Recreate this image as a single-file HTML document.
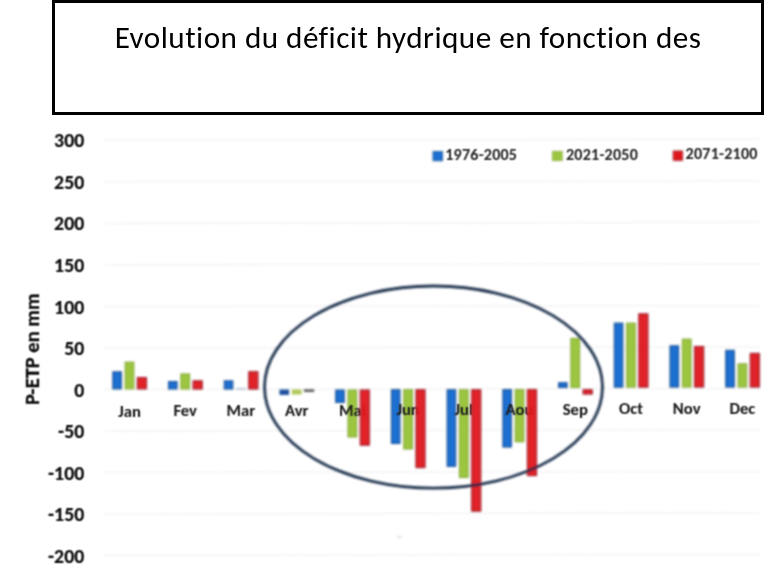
<!DOCTYPE html>
<html><head><meta charset="utf-8"><title>Evolution du déficit hydrique</title>
<style>
html,body{margin:0;padding:0;background:#fff;}
body{width:784px;height:580px;overflow:hidden;position:relative;font-family:"Carlito","Liberation Sans",sans-serif;}
.box{position:absolute;left:52px;top:0;width:706px;height:109px;border:3px solid #000;}
.title{position:absolute;left:52px;width:712px;top:17.1px;text-align:center;font-size:31.2px;line-height:40px;color:#000;font-variant-ligatures:none;font-feature-settings:"liga" 0,"clig" 0;letter-spacing:0.45px;}
svg{position:absolute;left:0;top:0;}
.yl{stroke:#111;stroke-width:0.15px;font-family:"Carlito","Liberation Sans",sans-serif;font-weight:bold;font-size:19.8px;fill:#111;letter-spacing:0px;}
.ml{stroke:#1f1f1f;stroke-width:0.1px;font-family:"Carlito","Liberation Sans",sans-serif;font-weight:bold;font-size:16.6px;fill:#1f1f1f;}
.lg{stroke:#2a2a2a;stroke-width:0.1px;letter-spacing:0.25px;font-family:"Carlito","Liberation Sans",sans-serif;font-weight:bold;font-size:16px;fill:#2a2a2a;}
.yt{stroke:#111;stroke-width:0.3px;font-family:"Carlito","Liberation Sans",sans-serif;font-weight:bold;font-size:20.5px;fill:#111;}
</style></head>
<body>
<div class="box"></div>
<div class="title">Evolution du déficit hydrique en fonction des</div>
<svg width="784" height="580" viewBox="0 0 784 580">
<defs><filter id="fb" x="-5%" y="-5%" width="110%" height="110%"><feGaussianBlur stdDeviation="0.8"/></filter><filter id="ft" x="-5%" y="-5%" width="110%" height="110%"><feConvolveMatrix order="3" kernelMatrix="1 2 1 2 4 2 1 2 1" divisor="16" preserveAlpha="false"/></filter></defs>
<g filter="url(#fb)"><line x1="104" y1="140.3" x2="760" y2="139.3" stroke="#f6f6f6" stroke-width="2"/><line x1="104" y1="181.8" x2="760" y2="180.8" stroke="#f6f6f6" stroke-width="2"/><line x1="104" y1="223.3" x2="760" y2="222.3" stroke="#f6f6f6" stroke-width="2"/><line x1="104" y1="264.9" x2="760" y2="263.9" stroke="#f6f6f6" stroke-width="2"/><line x1="104" y1="306.4" x2="760" y2="305.4" stroke="#f6f6f6" stroke-width="2"/><line x1="104" y1="347.9" x2="760" y2="346.9" stroke="#f6f6f6" stroke-width="2"/><line x1="104" y1="389.4" x2="760" y2="388.4" stroke="#f6f6f6" stroke-width="2"/><line x1="104" y1="430.9" x2="760" y2="429.9" stroke="#f6f6f6" stroke-width="2"/><line x1="104" y1="472.4" x2="760" y2="471.4" stroke="#f6f6f6" stroke-width="2"/><line x1="104" y1="513.9" x2="760" y2="512.9" stroke="#f6f6f6" stroke-width="2"/><line x1="104" y1="555.5" x2="760" y2="554.5" stroke="#f6f6f6" stroke-width="2"/><ellipse cx="399.5" cy="537" rx="2.5" ry="1.5" fill="#e6e6e6"/></g>
<g filter="url(#ft)"><text x="84.2" y="147.4" text-anchor="end" class="yl">300</text><text x="84.2" y="188.9" text-anchor="end" class="yl">250</text><text x="84.2" y="230.4" text-anchor="end" class="yl">200</text><text x="84.2" y="272.0" text-anchor="end" class="yl">150</text><text x="84.2" y="313.5" text-anchor="end" class="yl">100</text><text x="84.2" y="355.0" text-anchor="end" class="yl">50</text><text x="84.2" y="396.5" text-anchor="end" class="yl">0</text><text x="84.2" y="438.0" text-anchor="end" class="yl">-50</text><text x="84.2" y="479.5" text-anchor="end" class="yl">-100</text><text x="84.2" y="521.0" text-anchor="end" class="yl">-150</text><text x="84.2" y="562.6" text-anchor="end" class="yl">-200</text>
<text class="yt" transform="translate(38.6,405.1) rotate(-90)">P-ETP en mm</text>
<text x="445.2" y="160" class="lg">1976-2005</text>
<text x="566" y="159.8" class="lg">2021-2050</text>
<text x="685.6" y="159.4" class="lg">2071-2100</text>
</g>
<g filter="url(#fb)">
<rect x="433" y="151.5" width="9.6" height="9.3" fill="#1f6fd2" stroke="#1b4f8e" stroke-width="0.8"/>
<rect x="552.6" y="151.3" width="9.6" height="9.3" fill="#9cc641" stroke="#84a83a" stroke-width="0.8"/>
<rect x="673.2" y="151" width="9.4" height="9.3" fill="#e0151f" stroke="#920f1b" stroke-width="0.8"/>
<rect x="112.85" y="371.85" width="8.50" height="17.00" fill="#1f6fd2" stroke="#1b4f8e" stroke-width="1.1"/>
<rect x="125.15" y="362.15" width="8.70" height="26.70" fill="#9cc641" stroke="#84a83a" stroke-width="1.1"/>
<rect x="168.57" y="381.55" width="8.50" height="7.40" fill="#1f6fd2" stroke="#1b4f8e" stroke-width="1.1"/>
<rect x="180.87" y="373.95" width="8.70" height="15.00" fill="#9cc641" stroke="#84a83a" stroke-width="1.1"/>
<rect x="224.29" y="380.85" width="8.50" height="8.10" fill="#1f6fd2" stroke="#1b4f8e" stroke-width="1.1"/>
<rect x="236.04" y="388.30" width="9.80" height="1.20" fill="#9fb6c6"/>
<rect x="280.01" y="390.05" width="8.50" height="4.30" fill="#1d4f9c" stroke="#1d4f9c" stroke-width="1.1"/>
<rect x="292.31" y="390.05" width="8.70" height="3.90" fill="#b0c858" stroke="#b0c858" stroke-width="1.1"/>
<rect x="335.73" y="390.05" width="8.50" height="12.40" fill="#1f6fd2" stroke="#1b4f8e" stroke-width="1.1"/>
<rect x="348.03" y="390.05" width="8.70" height="46.90" fill="#9cc641" stroke="#84a83a" stroke-width="1.1"/>
<rect x="391.45" y="389.75" width="8.50" height="53.70" fill="#1f6fd2" stroke="#1b4f8e" stroke-width="1.1"/>
<rect x="403.75" y="389.75" width="8.70" height="59.20" fill="#9cc641" stroke="#84a83a" stroke-width="1.1"/>
<rect x="447.17" y="389.75" width="8.50" height="76.60" fill="#1f6fd2" stroke="#1b4f8e" stroke-width="1.1"/>
<rect x="459.47" y="389.75" width="8.70" height="87.70" fill="#9cc641" stroke="#84a83a" stroke-width="1.1"/>
<rect x="502.89" y="389.65" width="8.50" height="57.40" fill="#1f6fd2" stroke="#1b4f8e" stroke-width="1.1"/>
<rect x="515.19" y="389.65" width="8.70" height="52.10" fill="#9cc641" stroke="#84a83a" stroke-width="1.1"/>
<rect x="558.61" y="382.75" width="8.50" height="4.70" fill="#1f6fd2" stroke="#1b4f8e" stroke-width="1.1"/>
<rect x="570.91" y="338.45" width="8.70" height="49.00" fill="#9cc641" stroke="#84a83a" stroke-width="1.1"/>
<rect x="614.33" y="323.15" width="8.50" height="64.00" fill="#1f6fd2" stroke="#1b4f8e" stroke-width="1.1"/>
<rect x="626.63" y="323.15" width="8.70" height="64.00" fill="#9cc641" stroke="#84a83a" stroke-width="1.1"/>
<rect x="670.05" y="345.85" width="8.50" height="41.20" fill="#1f6fd2" stroke="#1b4f8e" stroke-width="1.1"/>
<rect x="682.35" y="339.15" width="8.70" height="47.90" fill="#9cc641" stroke="#84a83a" stroke-width="1.1"/>
<rect x="725.77" y="350.35" width="8.50" height="36.70" fill="#1f6fd2" stroke="#1b4f8e" stroke-width="1.1"/>
<rect x="738.07" y="363.85" width="8.70" height="23.20" fill="#9cc641" stroke="#84a83a" stroke-width="1.1"/></g>
<g filter="url(#ft)"><text x="129.5" y="416.7" text-anchor="middle" class="ml">Jan</text><text x="185.2" y="416.4" text-anchor="middle" class="ml">Fev</text><text x="240.9" y="416.2" text-anchor="middle" class="ml">Mar</text><text x="296.7" y="415.9" text-anchor="middle" class="ml">Avr</text><text x="352.4" y="415.7" text-anchor="middle" class="ml">Mai</text><text x="408.1" y="415.4" text-anchor="middle" class="ml">Jun</text><text x="463.8" y="415.1" text-anchor="middle" class="ml">Jul</text><text x="519.5" y="414.9" text-anchor="middle" class="ml">Aou</text><text x="575.3" y="414.6" text-anchor="middle" class="ml">Sep</text><text x="631.0" y="414.3" text-anchor="middle" class="ml">Oct</text><text x="686.7" y="414.1" text-anchor="middle" class="ml">Nov</text><text x="742.4" y="413.8" text-anchor="middle" class="ml">Dec</text></g>
<g filter="url(#fb)"><g opacity="0.95"><rect x="137.35" y="377.55" width="9.10" height="11.30" fill="#e0151f" stroke="#920f1b" stroke-width="1.1"/>
<rect x="193.07" y="380.85" width="9.10" height="8.10" fill="#e0151f" stroke="#920f1b" stroke-width="1.1"/>
<rect x="248.79" y="371.65" width="9.10" height="17.30" fill="#e0151f" stroke="#920f1b" stroke-width="1.1"/>
<rect x="303.96" y="389.50" width="10.20" height="2.30" fill="#3a3a3a"/>
<rect x="360.23" y="390.05" width="9.10" height="55.10" fill="#e0151f" stroke="#920f1b" stroke-width="1.1"/>
<rect x="415.95" y="389.75" width="9.10" height="77.80" fill="#e0151f" stroke="#920f1b" stroke-width="1.1"/>
<rect x="471.67" y="389.75" width="9.10" height="121.40" fill="#e0151f" stroke="#920f1b" stroke-width="1.1"/>
<rect x="527.39" y="389.65" width="9.10" height="85.90" fill="#e0151f" stroke="#920f1b" stroke-width="1.1"/>
<rect x="583.11" y="389.75" width="9.10" height="4.30" fill="#e0151f" stroke="#920f1b" stroke-width="1.1"/>
<rect x="638.83" y="313.85" width="9.10" height="73.30" fill="#e0151f" stroke="#920f1b" stroke-width="1.1"/>
<rect x="694.55" y="346.55" width="9.10" height="40.50" fill="#e0151f" stroke="#920f1b" stroke-width="1.1"/>
<rect x="750.27" y="353.45" width="9.10" height="33.60" fill="#e0151f" stroke="#920f1b" stroke-width="1.1"/></g>
<ellipse cx="433.5" cy="387.1" rx="169" ry="101.1" fill="none" stroke="#132644" stroke-width="2.8" opacity="0.95"/></g>
</svg>
</body></html>
